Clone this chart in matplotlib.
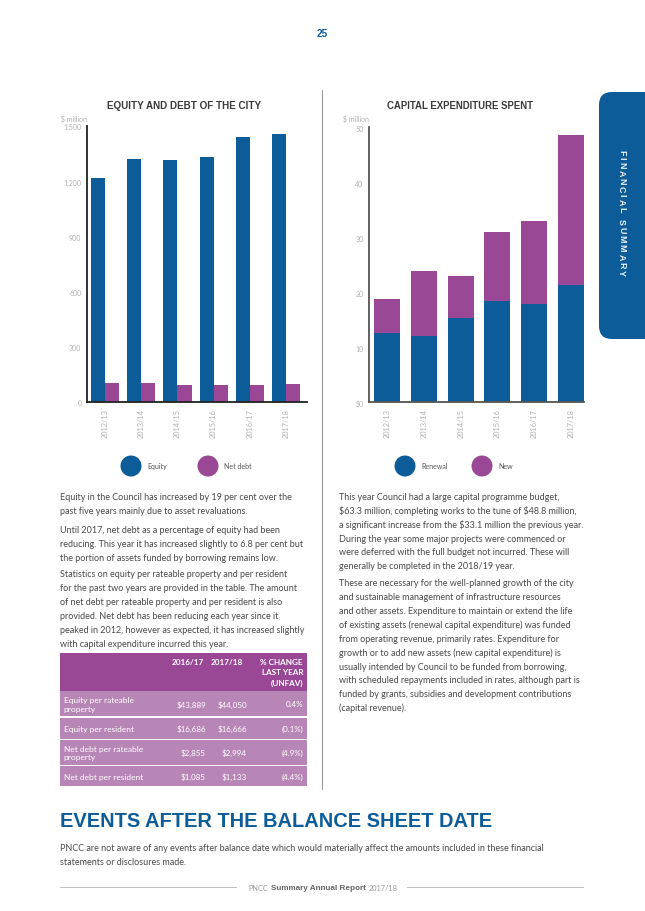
import matplotlib
matplotlib.use("Agg")
import matplotlib.pyplot as plt
from matplotlib.patches import FancyBboxPatch, Rectangle, Ellipse
import numpy as np

# ---------------- data ----------------
years = ["2012/13", "2013/14", "2014/15", "2015/16", "2016/17", "2017/18"]
equity = [1219, 1321, 1317, 1331, 1442, 1456]
net_debt = [107, 103, 94, 94, 93, 99]
renewal = [12.7, 12.1, 15.4, 18.5, 17.9, 21.5]
new_capex = [6.1, 11.8, 7.6, 12.5, 15.2, 27.3]
eq_ticks = [0, 300, 600, 900, 1200, 1500]
eq_ticklabels = ["0", "300", "600", "900", "1,200", "1,500"]
cx_ticks = [0, 10, 20, 30, 40, 50]
cx_ticklabels = ["$0", "10", "20", "30", "40", "50"]

table_header = ["2016/17", "2017/18", "% CHANGE\nLAST YEAR\n(UNFAV)"]
table_rows = ["Equity per rateable\nproperty", "Equity per resident",
              "Net debt per rateable\nproperty", "Net debt per resident"]
table_2016 = ["$43,889", "$16,686", "$2,855", "$1,085"]
table_2017 = ["$44,050", "$16,666", "$2,994", "$1,133"]
table_change = ["0.4%", "(0.1%)", "(4.9%)", "(4.4%)"]

left_paras = [
    ["Equity in the Council has increased by 19 per cent over the",
     "past five years mainly due to asset revaluations."],
    ["Until 2017, net debt as a percentage of equity had been",
     "reducing. This year it has increased slightly to 6.8 per cent but",
     "the portion of assets funded by borrowing remains low."],
    ["Statistics on equity per rateable property and per resident",
     "for the past two years are provided in the table. The amount",
     "of net debt per rateable property and per resident is also",
     "provided. Net debt has been reducing each year since it",
     "peaked in 2012, however as expected, it has increased slightly",
     "with capital expenditure incurred this year."],
]
right_paras = [
    ["This year Council had a large capital programme budget,",
     "$63.3 million, completing works to the tune of $48.8 million,",
     "a significant increase from the $33.1 million the previous year.",
     "During the year some major projects were commenced or",
     "were deferred with the full budget not incurred. These will",
     "generally be completed in the 2018/19 year."],
    ["These are necessary for the well-planned growth of the city",
     "and sustainable management of infrastructure resources",
     "and other assets. Expenditure to maintain or extend the life",
     "of existing assets (renewal capital expenditure) was funded",
     "from operating revenue, primarily rates. Expenditure for",
     "growth or to add new assets (new capital expenditure) is",
     "usually intended by Council to be funded from borrowing,",
     "with scheduled repayments included in rates, although part is",
     "funded by grants, subsidies and development contributions",
     "(capital revenue)."],
]
events_title = "EVENTS AFTER THE BALANCE SHEET DATE"
events_lines = ["PNCC are not aware of any events after balance date which would materially "
                "affect the amounts included in these financial",
                "statements or disclosures made."]
tab_label = "FINANCIAL SUMMARY"

# ---------------- style ----------------
BLUE = "#0b5c99"
PURPLE = "#9a4895"
ROW_PURPLE = "#b886b6"
TEXT = "#4a4a4a"
TICK = "#b0b0b0"
BODY_FONT = ["Lato", "DejaVu Sans"]
HEAD_FONT = ["Liberation Sans", "DejaVu Sans"]

W, H = 645, 912
fig = plt.figure(figsize=(W / 100, H / 100), dpi=100)
fig.patch.set_facecolor("white")
renderer = fig.canvas.get_renderer()

ov = fig.add_axes([0, 0, 1, 1])
ov.set_xlim(0, W)
ov.set_ylim(H, 0)
ov.axis("off")


def T(x, y, s, **kw):
    kw.setdefault("parse_math", False)
    kw.setdefault("va", "center")
    kw.setdefault("ha", "left")
    return ov.text(x, y, s, **kw)


def fit(t, target, vertical=False):
    bb = t.get_window_extent(renderer)
    cur = bb.height if vertical else bb.width
    fs = t.get_fontsize() * target / cur
    t.set_fontsize(fs)
    return fs


def ax_rect(x0, y0, x1, y1):
    return [x0 / W, 1 - y1 / H, (x1 - x0) / W, (y1 - y0) / H]


# page number
T(322, 34, "25", color=BLUE, fontsize=7.2, fontweight="bold", ha="center", family=HEAD_FONT)

# divider
ov.plot([322.3, 322.3], [91, 790], color="#9a9a9a", lw=0.8)

# side tab with tracked vertical lettering
tab = FancyBboxPatch((599, 93), 70, 247, boxstyle="round,pad=0,rounding_size=13",
                     facecolor=BLUE, edgecolor="none")
ov.add_patch(tab)
TAB_FS = 6.4
adv = []
for ch in tab_label:
    probe = T(0, 0, ch if ch != " " else "n", fontsize=TAB_FS, fontweight="bold",
              family=HEAD_FONT)
    w = probe.get_window_extent(renderer).width
    probe.remove()
    adv.append(w * (0.6 if ch == " " else 1.0))
span_top, span_bot = 150, 276
track = (span_bot - span_top - sum(adv)) / (len(adv) - 1)
ypos = span_top
for ch, a in zip(tab_label, adv):
    if ch != " ":
        T(621.5, ypos + a / 2, ch, rotation=-90, color="#eef2f7", fontsize=TAB_FS,
          fontweight="bold", ha="center", family=HEAD_FONT)
    ypos += a + track

# chart titles
t = T(184, 106, "EQUITY AND DEBT OF THE CITY", color="#3a3a3a", fontsize=7.5,
      fontweight="bold", ha="center", family=HEAD_FONT)
fit(t, 155)
t = T(460, 106, "CAPITAL EXPENDITURE SPENT", color="#3a3a3a", fontsize=7.5,
      fontweight="bold", ha="center", family=HEAD_FONT)
fit(t, 148)
T(61, 119.5, "$ million", color=TICK, fontsize=5, family=BODY_FONT)
T(343, 119.5, "$ million", color=TICK, fontsize=5, family=BODY_FONT)

# ---------------- left chart ----------------
ax1 = fig.add_axes(ax_rect(87, 127.3, 307, 403.3))
x = np.arange(len(years))
bw = 0.39
ax1.bar(x - bw / 2, equity, width=bw, color=BLUE, linewidth=0)
ax1.bar(x + bw / 2, net_debt, width=bw, color=PURPLE, linewidth=0)
ax1.set_xlim(-0.5, 5.58)
ax1.set_ylim(0, 1500)

# ---------------- right chart ----------------
ax2 = fig.add_axes(ax_rect(369, 128.3, 584, 403.3))
bw2 = 0.71
ax2.bar(x, renewal, width=bw2, color=BLUE, linewidth=0)
ax2.bar(x, new_capex, width=bw2, bottom=renewal, color=PURPLE, linewidth=0)
ax2.set_xlim(-0.5, 5.36)
ax2.set_ylim(0, 50.2)

for ax, ticks, labels, spc in [(ax1, eq_ticks, eq_ticklabels, "#222222"),
                               (ax2, cx_ticks, cx_ticklabels, "#555555")]:
    ax.set_facecolor("none")
    for s in ["top", "right"]:
        ax.spines[s].set_visible(False)
    for s in ["left", "bottom"]:
        ax.spines[s].set_color(spc)
        ax.spines[s].set_linewidth(1.3)
    ax.set_yticks(ticks)
    ax.set_yticklabels(labels, fontsize=5, color=TICK, family=BODY_FONT)
    ax.set_xticks(x)
    ax.set_xticklabels(years, rotation=90, fontsize=5.3, color=TICK, family=BODY_FONT)
    ax.tick_params(axis="both", length=0, pad=4)

# legends
for cx_, col, lab in [(131, BLUE, "Equity"), (208, PURPLE, "Net debt"),
                      (405, BLUE, "Renewal"), (482, PURPLE, "New")]:
    ov.add_patch(Ellipse((cx_, 467), 21, 21, facecolor=col, edgecolor="none"))
    T(cx_ + 16, 467, lab, fontsize=5, color="#555555", family=BODY_FONT)

# ---------------- body text ----------------
probe = T(60, 498, left_paras[0][0], fontsize=7, color=TEXT, family=BODY_FONT)
BODY_SIZE = fit(probe, 232)
probe.remove()
LS = 13.85


def draw_paras(paras, x0, starts):
    for para, y0 in zip(paras, starts):
        for i, line in enumerate(para):
            T(x0, y0 + i * LS, line, fontsize=BODY_SIZE, color=TEXT, family=BODY_FONT)


draw_paras(left_paras, 60, [498, 531, 575])
draw_paras(right_paras, 339, [497.5, 584])

# ---------------- table ----------------
tx0, tx1 = 60, 307
hdr_top, hdr_bot = 654, 691.5
row_edges = [691.5, 718, 740.5, 766.5, 788]
ov.add_patch(Rectangle((tx0, hdr_top), tx1 - tx0, hdr_bot - hdr_top, facecolor=PURPLE,
                       edgecolor="none"))
for i in range(len(table_rows)):
    y0, y1 = row_edges[i], row_edges[i + 1]
    ov.add_patch(Rectangle((tx0, y0 + 0.6), tx1 - tx0, y1 - y0 - 1.2, facecolor=ROW_PURPLE,
                           edgecolor="none"))
HS = 5.9
LSZ = 6.0
VS = 5.8
col_x = [206, 247, 303]
T(204, 662.5, table_header[0], fontsize=HS, fontweight="bold", color="white",
  ha="right", family=BODY_FONT)
T(243, 662.5, table_header[1], fontsize=HS, fontweight="bold", color="white",
  ha="right", family=BODY_FONT)
for j, ln in enumerate(table_header[2].split("\n")):
    T(303, 662.5 + j * 10.5, ln, fontsize=HS, fontweight="bold", color="white",
      ha="right", family=BODY_FONT)
for i in range(len(table_rows)):
    yc = (row_edges[i] + row_edges[i + 1]) / 2
    lines = table_rows[i].split("\n")
    off = (len(lines) - 1) * 8.6 / 2
    for j, ln in enumerate(lines):
        T(63.5, yc - off + j * 8.6, ln, fontsize=LSZ, color="white", family=BODY_FONT)
    for cxx, val in zip(col_x, [table_2016[i], table_2017[i], table_change[i]]):
        T(cxx, yc, val, fontsize=VS, color="white", ha="right", family=BODY_FONT)

# ---------------- bottom section ----------------
t = T(60, 822, events_title, fontsize=14, fontweight="bold", color=BLUE, family=HEAD_FONT)
fit(t, 432)
T(60, 848.5, events_lines[0], fontsize=BODY_SIZE, color=TEXT, family=BODY_FONT)
T(60, 863, events_lines[1], fontsize=BODY_SIZE, color=TEXT, family=BODY_FONT)

# footer
ov.plot([60, 236], [888.5, 888.5], color="#b5b5b5", lw=0.6)
ov.plot([407, 583], [888.5, 888.5], color="#b5b5b5", lw=0.6)
t1 = T(248, 888.5, "PNCC", fontsize=5.6, color="#9a9a9a", family=BODY_FONT)
fit(t1, 20)
t2 = T(271, 888.5, "Summary Annual Report", fontsize=5.6, color="#666666",
       fontweight="bold", family=HEAD_FONT)
fit(t2, 95)
t3 = T(368.5, 888.5, "2017/18", fontsize=5.6, color="#9a9a9a", family=BODY_FONT)
fit(t3, 29)

fig.savefig("out.png", dpi=100)
